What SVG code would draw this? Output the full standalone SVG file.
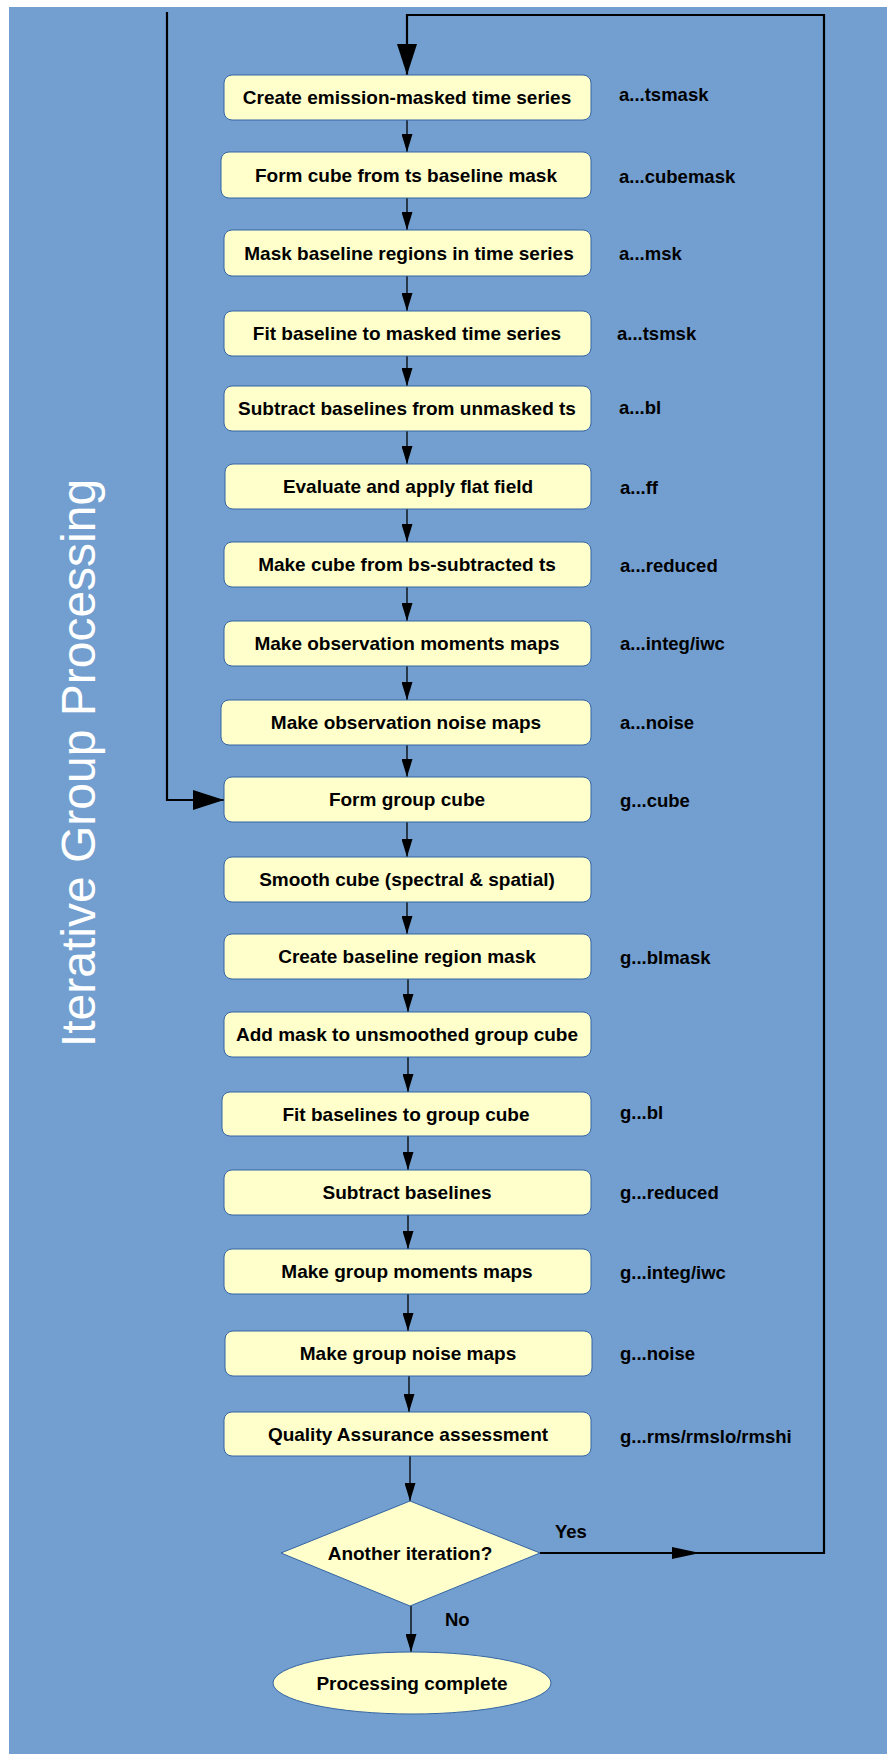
<svg xmlns="http://www.w3.org/2000/svg" width="887" height="1754" viewBox="0 0 887 1754">
<defs>
<style>
.box{fill:#ffffcc;stroke:#3465a4;stroke-width:1}
.t{font-family:"Liberation Sans",Arial,sans-serif;font-weight:bold;font-size:19px;fill:#000;text-anchor:middle}
.l{font-family:"Liberation Sans",Arial,sans-serif;font-weight:bold;font-size:18.5px;fill:#000}
.c{fill:none;stroke:#000;stroke-width:1.3}
.cb{fill:none;stroke:#000;stroke-width:2.2}
</style>
<marker id="a" viewBox="0 0 18 11" refX="18" refY="5.5" markerWidth="18" markerHeight="11" markerUnits="userSpaceOnUse" orient="auto"><path d="M0,0L18,5.5L0,11z" fill="#000"/></marker>
<marker id="A" viewBox="0 0 31 20" refX="31" refY="10" markerWidth="31" markerHeight="20" markerUnits="userSpaceOnUse" orient="auto"><path d="M0,0L31,10L0,20z" fill="#000"/></marker>
</defs>
<rect x="9" y="7" width="878" height="1747" fill="#729fcf"/>
<text x="0" y="0" transform="translate(95,763) rotate(-90)" font-family="'Liberation Sans',Arial,sans-serif" font-size="48" fill="#fff" text-anchor="middle">Iterative Group Processing</text>

<g id="connectors">
<path class="cb" d="M167,12V800H224" marker-end="url(#A)"/>
<path class="cb" d="M540,1553H824V15H407V75" marker-end="url(#A)"/>
<path d="M672,1547L700,1553L672,1559z" fill="#000"/>
<path class="c" d="M407,120V152" marker-end="url(#a)"/>
<path class="c" d="M407,198V230" marker-end="url(#a)"/>
<path class="c" d="M407,276V311" marker-end="url(#a)"/>
<path class="c" d="M407,356V386" marker-end="url(#a)"/>
<path class="c" d="M407,431V464" marker-end="url(#a)"/>
<path class="c" d="M407,509V542" marker-end="url(#a)"/>
<path class="c" d="M407,587V621" marker-end="url(#a)"/>
<path class="c" d="M407,666V700" marker-end="url(#a)"/>
<path class="c" d="M407,745V777" marker-end="url(#a)"/>
<path class="c" d="M407,822V857" marker-end="url(#a)"/>
<path class="c" d="M407,902V934" marker-end="url(#a)"/>
<path class="c" d="M408,979V1012" marker-end="url(#a)"/>
<path class="c" d="M408,1057V1092" marker-end="url(#a)"/>
<path class="c" d="M408,1136V1170" marker-end="url(#a)"/>
<path class="c" d="M408,1215V1249" marker-end="url(#a)"/>
<path class="c" d="M408,1294V1331" marker-end="url(#a)"/>
<path class="c" d="M409,1376V1412" marker-end="url(#a)"/>
<path class="c" d="M410,1456V1501" marker-end="url(#a)"/>
<path class="c" d="M411,1606V1652" marker-end="url(#a)"/>
<text class="l" x="555" y="1538">Yes</text>
<text class="l" x="445" y="1626">No</text>
</g>

<g id="n1"><rect class="box" x="224" y="75" width="367" height="45" rx="8"/><text class="t" x="407" y="104">Create emission-masked time series</text><text class="l" x="619" y="101">a...tsmask</text></g>
<g id="n2"><rect class="box" x="221" y="152" width="370" height="46" rx="8"/><text class="t" x="406" y="182">Form cube from ts baseline mask</text><text class="l" x="619" y="183">a...cubemask</text></g>
<g id="n3"><rect class="box" x="224" y="230" width="367" height="46" rx="8"/><text class="t" x="409" y="260">Mask baseline regions in time series</text><text class="l" x="619" y="260">a...msk</text></g>
<g id="n4"><rect class="box" x="224" y="311" width="367" height="45" rx="8"/><text class="t" x="407" y="340">Fit baseline to masked time series</text><text class="l" x="617" y="340">a...tsmsk</text></g>
<g id="n5"><rect class="box" x="224" y="386" width="367" height="45" rx="8"/><text class="t" x="407" y="415">Subtract baselines from unmasked ts</text><text class="l" x="619" y="414">a...bl</text></g>
<g id="n6"><rect class="box" x="225" y="464" width="366" height="45" rx="8"/><text class="t" x="408" y="493">Evaluate and apply flat field</text><text class="l" x="620" y="494">a...ff</text></g>
<g id="n7"><rect class="box" x="224" y="542" width="367" height="45" rx="8"/><text class="t" x="407" y="571">Make cube from bs-subtracted ts</text><text class="l" x="620" y="572">a...reduced</text></g>
<g id="n8"><rect class="box" x="224" y="621" width="367" height="45" rx="8"/><text class="t" x="407" y="650">Make observation moments maps</text><text class="l" x="620" y="650">a...integ/iwc</text></g>
<g id="n9"><rect class="box" x="221" y="700" width="370" height="45" rx="8"/><text class="t" x="406" y="729">Make observation noise maps</text><text class="l" x="620" y="729">a...noise</text></g>
<g id="n10"><rect class="box" x="224" y="777" width="367" height="45" rx="8"/><text class="t" x="407" y="806">Form group cube</text><text class="l" x="620" y="807">g...cube</text></g>
<g id="n11"><rect class="box" x="224" y="857" width="367" height="45" rx="8"/><text class="t" x="407" y="886">Smooth cube (spectral &amp; spatial)</text></g>
<g id="n12"><rect class="box" x="224" y="934" width="367" height="45" rx="8"/><text class="t" x="407" y="963">Create baseline region mask</text><text class="l" x="620" y="964">g...blmask</text></g>
<g id="n13"><rect class="box" x="224" y="1012" width="367" height="45" rx="8"/><text class="t" x="407" y="1041">Add mask to unsmoothed group cube</text></g>
<g id="n14"><rect class="box" x="222" y="1092" width="369" height="44" rx="8"/><text class="t" x="406" y="1120.5">Fit baselines to group cube</text><text class="l" x="620" y="1119">g...bl</text></g>
<g id="n15"><rect class="box" x="224" y="1170" width="367" height="45" rx="8"/><text class="t" x="407" y="1199">Subtract baselines</text><text class="l" x="620" y="1199">g...reduced</text></g>
<g id="n16"><rect class="box" x="224" y="1249" width="367" height="45" rx="8"/><text class="t" x="407" y="1278">Make group moments maps</text><text class="l" x="620" y="1279">g...integ/iwc</text></g>
<g id="n17"><rect class="box" x="225" y="1331" width="367" height="45" rx="8"/><text class="t" x="408" y="1360">Make group noise maps</text><text class="l" x="620" y="1360">g...noise</text></g>
<g id="n18"><rect class="box" x="224" y="1412" width="367" height="44" rx="8"/><text class="t" x="408" y="1440.5">Quality Assurance assessment</text><text class="l" x="620" y="1443">g...rms/rmslo/rmshi</text></g>
<g id="n19"><path class="box" d="M410,1501L540,1553L410,1606L281,1553z"/><text class="t" x="410" y="1559.5">Another iteration?</text></g>
<g id="n20"><ellipse class="box" cx="412" cy="1683" rx="139" ry="31"/><text class="t" x="412" y="1689.5">Processing complete</text></g>
</svg>
